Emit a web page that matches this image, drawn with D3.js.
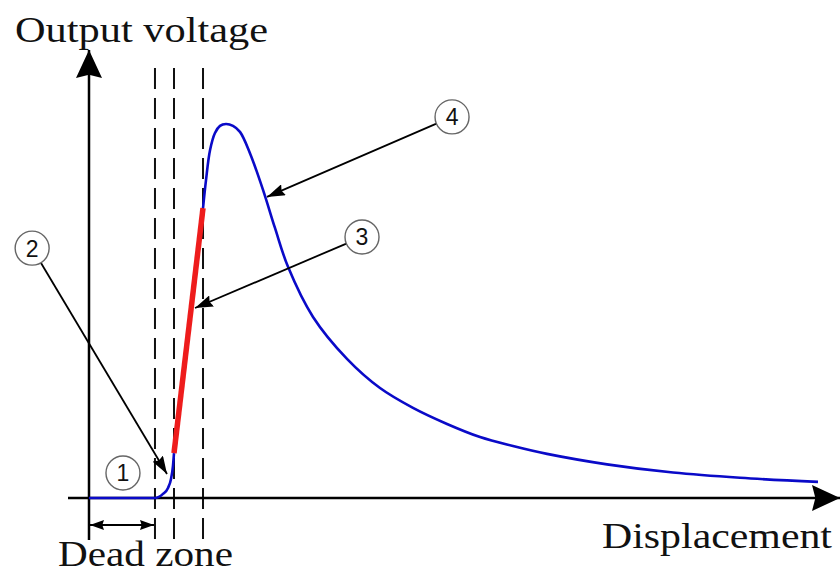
<!DOCTYPE html>
<html>
<head>
<meta charset="utf-8">
<script src="https://cdn.jsdelivr.net/npm/d3@7"></script>
<style>
  html, body { margin: 0; padding: 0; background: #fff; }
  svg { display: block; }
</style>
</head>
<body>
<svg id="chart" width="840" height="574"></svg>
<script>
// ---- Data (displacement in arbitrary units, voltage normalised to peak = 1) ----
const deadZoneCurveX = [0, 0.905, 1.015, 1.084, 1.125, 1.152, 1.166];
const deadZoneCurveY = [0, 0, 0.011, 0.027, 0.051, 0.086, 0.12];

const linearX = [1.166, 1.564];
const linearY = [0.12, 0.775];

const tailX = [1.564, 1.605, 1.660, 1.728, 1.797, 1.879, 1.975, 2.071, 2.208, 2.387, 2.551, 2.730, 3.073, 3.539, 3.992, 4.444, 4.911, 5.364, 5.816, 6.283, 7.106, 8.011, 8.930, 10.0];
const tailY = [0.775, 0.850, 0.930, 0.976, 0.995, 1.0, 0.995, 0.979, 0.922, 0.824, 0.722, 0.618, 0.484, 0.372, 0.294, 0.241, 0.198, 0.163, 0.139, 0.118, 0.090, 0.068, 0.054, 0.043];

const boundaryX = [0.905, 1.166, 1.564];   // dashed vertical lines

const labelIds = ["1", "2", "3", "4"];
const labelX = [0.466, -0.78, 3.745, 4.98];
const labelY = [0.067, 0.668, 0.698, 1.019];
const arrowTipX = [null, 1.07, 1.454, 2.442];
const arrowTipY = [null, 0.064, 0.508, 0.805];

const xTitle = "Displacement";
const yTitle = "Output voltage";
const deadZoneLabel = "Dead zone";

// ---- Scales ----
const svg = d3.select("#chart");
const x = d3.scaleLinear().domain([0, 10]).range([89, 818]);
const y = d3.scaleLinear().domain([0, 1]).range([498, 124]);

const defs = svg.append("defs");
function marker(id, w, h) {
  defs.append("marker")
    .attr("id", id)
    .attr("viewBox", `0 0 ${w} ${h}`)
    .attr("refX", w).attr("refY", h / 2)
    .attr("markerWidth", w).attr("markerHeight", h)
    .attr("markerUnits", "userSpaceOnUse")
    .attr("orient", "auto-start-reverse")
    .append("path")
    .attr("d", `M0,0 L${w},${h / 2} L0,${h} L${w * 0.12},${h / 2} Z`)
    .attr("fill", "#000");
}
marker("axisHead", 28, 26);
marker("annHead", 18, 12);
marker("dzHead", 14, 10);

const x0 = x(0), y0 = y(0);

// ---- Dashed boundaries ----
svg.append("g").selectAll("line").data(boundaryX).join("line")
  .attr("x1", d => x(d)).attr("x2", d => x(d))
  .attr("y1", 68).attr("y2", 540)
  .attr("stroke", "#111").attr("stroke-width", 2)
  .attr("stroke-dasharray", "21,9");

// ---- Axes ----
svg.append("line")
  .attr("x1", x0).attr("x2", x0).attr("y1", 540).attr("y2", 50)
  .attr("stroke", "#000").attr("stroke-width", 2.5)
  .attr("marker-end", "url(#axisHead)");
svg.append("line")
  .attr("x1", 68).attr("x2", 840).attr("y1", y0).attr("y2", y0)
  .attr("stroke", "#000").attr("stroke-width", 2.5)
  .attr("marker-end", "url(#axisHead)");

// ---- Curves ----
const smooth = d3.line().x(d => x(d[0])).y(d => y(d[1])).curve(d3.curveCatmullRom.alpha(0.5));
const zip = (a, b) => a.map((v, i) => [v, b[i]]);

svg.append("path").datum(zip(deadZoneCurveX, deadZoneCurveY))
  .attr("d", d3.line().x(d => x(d[0])).y(d => y(d[1])).curve(d3.curveMonotoneX))
  .attr("fill", "none")
  .attr("stroke", "#0a0ac8").attr("stroke-width", 2.6);
svg.append("path").datum(zip(tailX, tailY))
  .attr("d", smooth).attr("fill", "none")
  .attr("stroke", "#0a0ac8").attr("stroke-width", 2.6);
svg.append("path").datum(zip(linearX, linearY))
  .attr("d", d3.line().x(d => x(d[0])).y(d => y(d[1])))
  .attr("fill", "none")
  .attr("stroke", "#ee1c1c").attr("stroke-width", 5.5);

// ---- Dead zone arrow ----
svg.append("line")
  .attr("x1", x(0) + 1).attr("x2", x(boundaryX[0]) - 1)
  .attr("y1", 525).attr("y2", 525)
  .attr("stroke", "#000").attr("stroke-width", 1.8)
  .attr("marker-start", "url(#dzHead)")
  .attr("marker-end", "url(#dzHead)");

// ---- Numbered labels and arrows ----
const R = 17;
labelIds.forEach((id, i) => {
  const cx = x(labelX[i]), cy = y(labelY[i]);
  if (arrowTipX[i] !== null) {
    const tx = x(arrowTipX[i]), ty = y(arrowTipY[i]);
    const dx = tx - cx, dy = ty - cy, n = Math.hypot(dx, dy);
    svg.append("line")
      .attr("x1", cx + R * dx / n).attr("y1", cy + R * dy / n)
      .attr("x2", tx).attr("y2", ty)
      .attr("stroke", "#000").attr("stroke-width", 1.8)
      .attr("marker-end", "url(#annHead)");
  }
  svg.append("circle")
    .attr("cx", cx).attr("cy", cy).attr("r", R)
    .attr("fill", "#fff").attr("stroke", "#666").attr("stroke-width", 1.4);
  svg.append("text")
    .attr("x", cx).attr("y", cy + 8.5)
    .attr("text-anchor", "middle")
    .attr("font-family", "Liberation Sans, Arial, sans-serif")
    .attr("font-size", 23)
    .attr("fill", "#111")
    .text(id);
});

// ---- Titles ----
function title(txt, tx, ty, len) {
  svg.append("text")
    .attr("x", tx).attr("y", ty)
    .attr("font-family", "Liberation Serif, Times New Roman, serif")
    .attr("font-size", 35)
    .attr("fill", "#111")
    .attr("textLength", len)
    .attr("lengthAdjust", "spacingAndGlyphs")
    .text(txt);
}
title(yTitle, 15, 42, 253);
title(xTitle, 602, 548, 230);
title(deadZoneLabel, 58, 566, 175);
</script>
</body>
</html>
